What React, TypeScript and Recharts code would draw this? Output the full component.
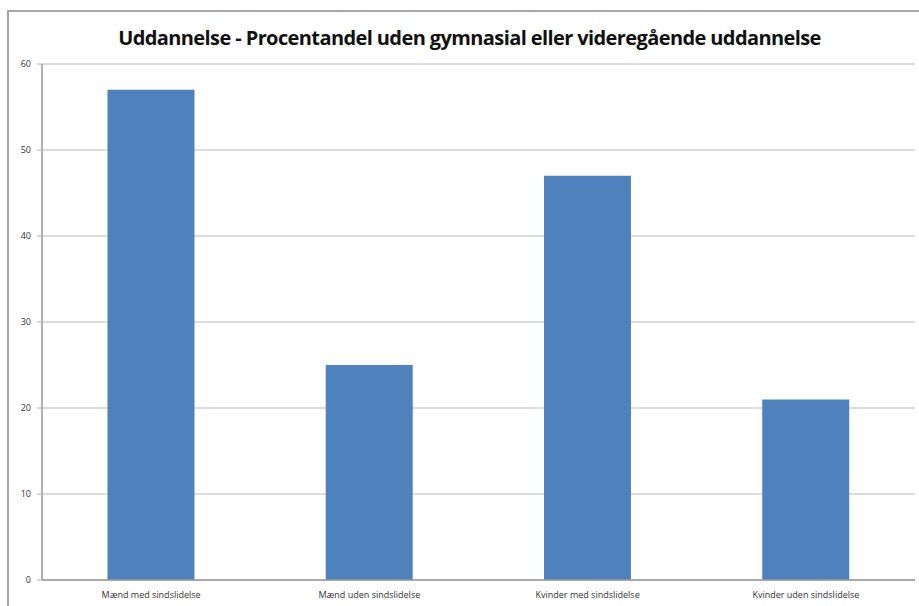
import { BarChart, Bar, XAxis, YAxis, CartesianGrid } from 'recharts'

const categories = ['Mænd med sindslidelse', 'Mænd uden sindslidelse', 'Kvinder med sindslidelse', 'Kvinder uden sindslidelse']
const values = [57, 25, 47, 21]
const yTicks = [0, 10, 20, 30, 40, 50, 60]
const boundaryTicks = [0, 1, 2, 3, 4]

const chartData = categories.map((name, i) => ({ name, value: values[i] }))

export default function App() {
  return (
    <div style={{ position: 'absolute', left: 0, top: 0, width: 919, height: 606, background: '#fff', overflow: 'hidden' }}>
      <div style={{
        position: 'absolute', left: 7, top: 10, width: 940, height: 640,
        borderTop: '2px solid #a6a6a6', borderLeft: '2px solid #a6a6a6'
      }} />
      <div style={{
        position: 'absolute', left: 7, top: 24, width: 925, textAlign: 'center',
        fontFamily: 'Open Sans', fontWeight: 'bold', fontSize: 20, color: '#111', letterSpacing: -0.6
      }}>
        Uddannelse - Procentandel uden gymnasial eller videregående uddannelse
      </div>
      <BarChart
        width={919}
        height={606}
        data={chartData}
        margin={{ top: 64, right: 4, left: 0, bottom: 6 }}
        barCategoryGap="30%"
        style={{ position: 'absolute', left: 0, top: 0 }}
      >
        <CartesianGrid vertical={false} stroke="#d0d0d0" strokeWidth={1.5} />
        <XAxis
          dataKey="name"
          height={20}
          axisLine={{ stroke: '#9a9a9a', strokeWidth: 1.5 }}
          tickLine={false}
          interval={0}
          tick={{ fontSize: 9, fill: '#333', fontFamily: 'Open Sans' }}
          tickMargin={6}
        />
        <XAxis
          xAxisId="b"
          type="number"
          domain={[0, 4]}
          ticks={boundaryTicks}
          height={0}
          axisLine={false}
          tickLine={{ stroke: '#9a9a9a' }}
          tickSize={5}
          tick={false}
        />
        <YAxis
          width={42}
          domain={[0, 60]}
          ticks={yTicks}
          axisLine={{ stroke: '#b0b0b0', strokeWidth: 2 }}
          tickLine={{ stroke: '#b0b0b0' }}
          tickSize={5}
          tickMargin={6}
          tick={{ fontSize: 9, fill: '#333', fontFamily: 'Open Sans' }}
        />
        <Bar dataKey="value" fill="#4f81bd" isAnimationActive={false} />
      </BarChart>
    </div>
  )
}
